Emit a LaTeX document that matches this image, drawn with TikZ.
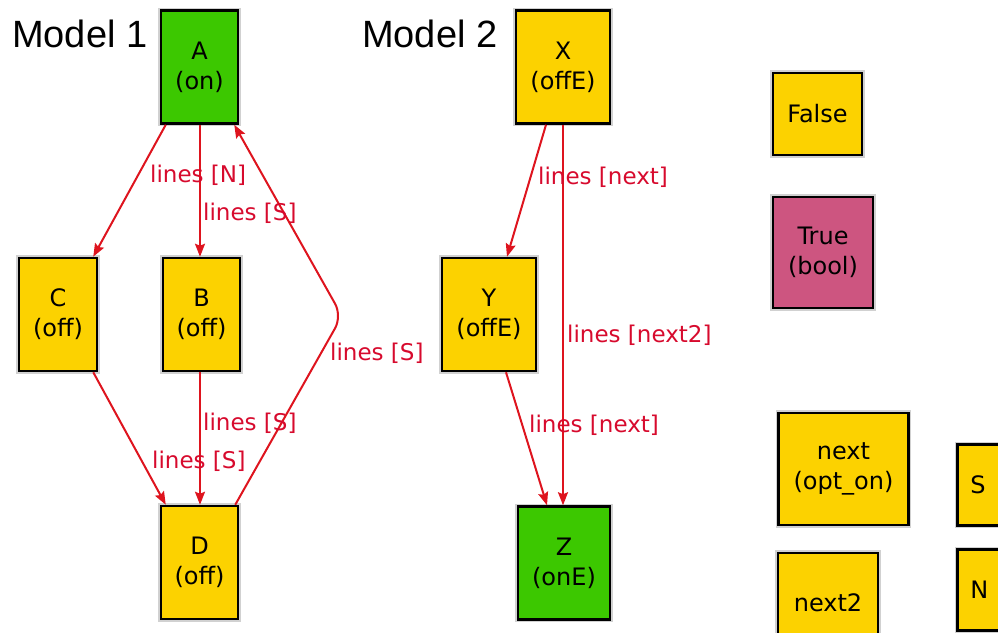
\documentclass[tikz,border=0pt]{standalone}
\usepackage{fontspec}
\setmainfont{DejaVu Sans}
\newfontfamily\titlefont{Liberation Sans}
\usetikzlibrary{arrows.meta}
\definecolor{gvgold}{RGB}{252,210,0}
\definecolor{gvgreen}{RGB}{60,200,0}
\definecolor{gvpink}{RGB}{205,85,128}
\definecolor{edgered}{RGB}{222,20,30}
\definecolor{lblred}{RGB}{215,10,45}
\begin{document}
\begin{tikzpicture}[x=1pt,y=-1pt,
  statebox/.style={draw=black, line width=2.5pt, fill=gvgold, align=center,
    inner sep=0pt, font=\fontsize{24}{30}\selectfont,
    preaction={draw=black!18, line width=5.5pt}},
  onbox/.style={statebox, fill=gvgreen},
  boolbox/.style={statebox, fill=gvpink},
  sidebox/.style={statebox, anchor=north west, align=left, text width=40pt, inner xsep=13pt},
  link/.style={draw=edgered, line width=2pt, -{Stealth[length=13pt,width=10pt,inset=2pt]}},
  lbl/.style={text=lblred, font=\fontsize{23}{28}\selectfont, inner sep=0pt, anchor=base west},
  title/.style={font=\titlefont\fontsize{38}{40}\selectfont, inner sep=0pt, anchor=base west}]
\useasboundingbox (0,0) rectangle (998,632);
\clip (0,0) rectangle (998,632);

% headings
\node[title] (m1) at (12,47) {Model 1};
\node[title] (m2) at (362,47) {Model 2};

% model 1
\node[onbox, minimum width=77pt, minimum height=113pt] (A) at (199.5,67) {A\\(on)};
\node[statebox, minimum width=78pt, minimum height=113pt] (C) at (58,314.5) {C\\(off)};
\node[statebox, minimum width=77pt, minimum height=113pt] (B) at (201.5,314.5) {B\\(off)};
\node[statebox, minimum width=77pt, minimum height=113pt] (D) at (199.5,562.5) {D\\(off)};
\coordinate (bend) at (342,316);

\draw[link] ([xshift=6pt]A.south west) -- ([xshift=-5pt]C.north east);
\draw[link] ([xshift=-1.5pt]B.north |- A.south) -- ([xshift=-1.5pt]B.north);
\draw[link] ([xshift=-5pt]C.south east) -- ([xshift=6pt]D.north west);
\draw[link] ([xshift=-1.5pt]B.south) -- ([xshift=-1.5pt]B.south |- D.north);
\draw[link, rounded corners=14pt] ([xshift=-4pt]D.north east) -- (bend) -- ([xshift=-5pt]A.south east);

\node[lbl] (lAC) at (150,182) {lines [N]};
\node[lbl] (lAB) at (203,220) {lines [S]};
\node[lbl] (lDA) at (330,360) {lines [S]};
\node[lbl] (lBD) at (203,430) {lines [S]};
\node[lbl] (lCD) at (152,468) {lines [S]};

% model 2
\node[statebox, minimum width=94pt, minimum height=113pt] (X) at (563,67) {X\\(offE)};
\node[statebox, minimum width=94pt, minimum height=113pt] (Y) at (489,314.5) {Y\\(offE)};
\node[onbox, minimum width=92pt, minimum height=113pt] (Z) at (564,563) {Z\\(onE)};

\draw[link] ([xshift=-17pt]X.south) -- ([xshift=18pt]Y.north);
\draw[link] (X.south) -- (X.south |- Z.north);
\draw[link] ([xshift=17pt]Y.south) -- ([xshift=-17pt]Z.north);

\node[lbl] (lXY) at (538,184) {lines [next]};
\node[lbl] (lXZ) at (567,342) {lines [next2]};
\node[lbl] (lYZ) at (529,432) {lines [next]};

% other values
\node[statebox, minimum width=89pt, minimum height=82pt] (F) at (817.5,114) {False};
\node[boolbox, minimum width=100pt, minimum height=111pt] (T) at (823,252.5) {True\\(bool)};
\node[statebox, minimum width=130pt, minimum height=112pt] (nx) at (843.5,469) {next\\(opt\_on)};
\node[statebox, minimum width=100pt, minimum height=100pt] (nx2) at (828,603) {next2};
\node[sidebox, minimum height=81pt] (S) at (956,443) {S};
\node[sidebox, minimum height=81pt] (N) at (956,548) {N};
\end{tikzpicture}
\end{document}
